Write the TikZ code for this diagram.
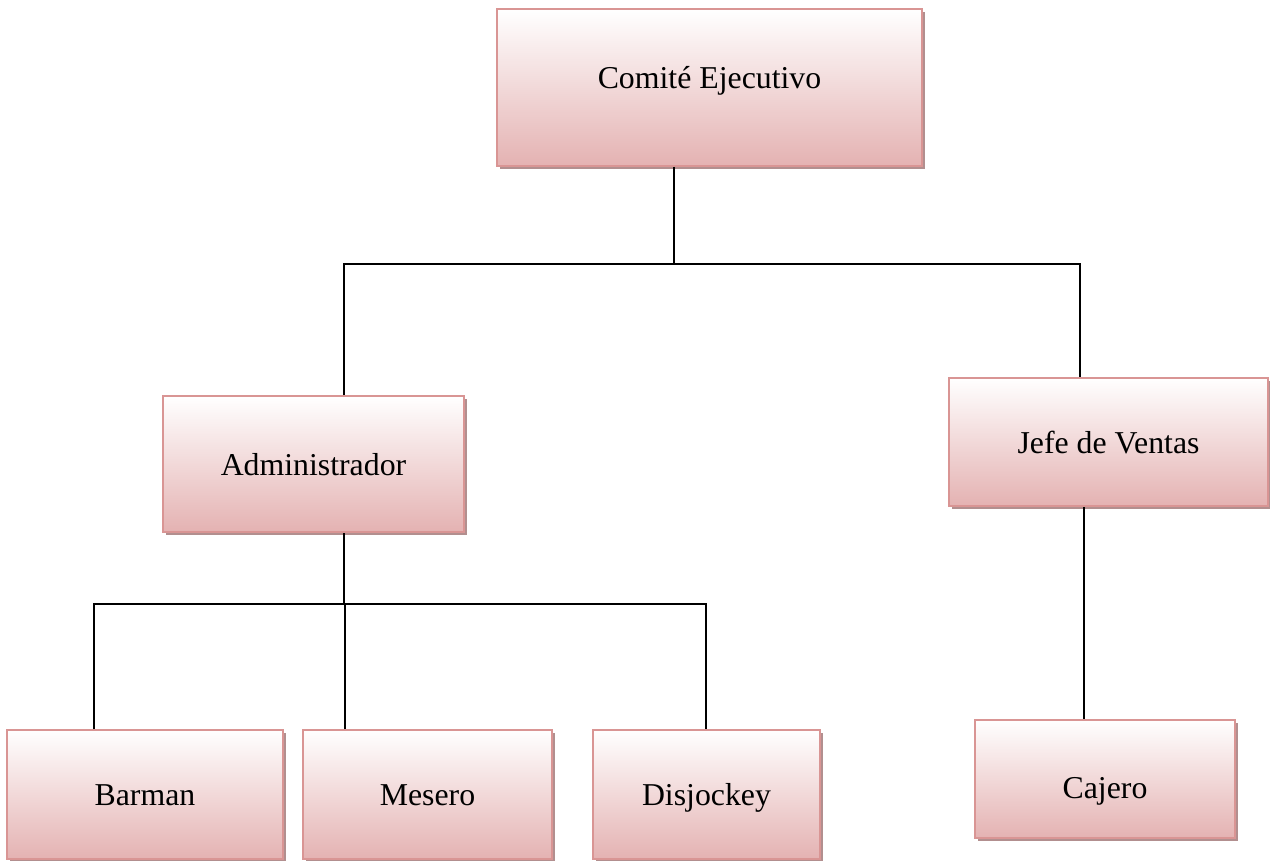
\documentclass[tikz,border=0pt]{standalone}
\usepackage{fontspec}
\setmainfont{Liberation Serif}
\usetikzlibrary{shadows}
\definecolor{boxline}{RGB}{217,149,148}
\definecolor{boxbottom}{RGB}{228,178,178}
\definecolor{boxshadow}{RGB}{178,143,143}
\tikzset{
  orgbox/.style={
    rectangle, draw=boxline, line width=2pt,
    top color=white, bottom color=boxbottom,
    drop shadow={shadow xshift=3pt, shadow yshift=-3pt, fill=boxshadow, opacity=1},
    inner sep=0pt, text height=22pt, text depth=0pt,
    font=\fontsize{31.8}{38}\selectfont, text=black},
  link/.style={draw=black, line width=1.6pt}
}
\begin{document}
\begin{tikzpicture}[x=1pt, y=-1pt]
  \useasboundingbox (0,0) rectangle (1270,861);

  % boxes
  \node[orgbox, minimum width=425pt, minimum height=157pt] (ce)  at (709.5,87.5) {\raisebox{10pt}{Comité Ejecutivo}};
  \node[orgbox, minimum width=301pt, minimum height=136pt] (adm) at (313.5,464)  {Administrador};
  \node[orgbox, minimum width=319pt, minimum height=128pt] (jv)  at (1108.5,442) {Jefe de Ventas};
  \node[orgbox, minimum width=276pt, minimum height=129pt] (bar) at (145,794.5)  {Barman};
  \node[orgbox, minimum width=249pt, minimum height=129pt] (mes) at (427.5,794.5) {Mesero};
  \node[orgbox, minimum width=227pt, minimum height=129pt] (dj)  at (706.5,794.5) {Disjockey};
  \node[orgbox, minimum width=260pt, minimum height=118pt] (caj) at (1105,779)   {\raisebox{-8pt}{Cajero}};

  % bus lines
  \coordinate (bus1) at (674,264);
  \coordinate (bus2) at (344,604);

  % connectors
  \draw[link] ([xshift=-35.5pt]ce.south) -- (bus1);
  \draw[link] ([xshift=30.5pt]adm.north) |- (bus1) -| ([xshift=-28.5pt]jv.north);
  \draw[link] ([xshift=30.5pt]adm.south) -- (bus2);
  \draw[link] ([xshift=-51pt]bar.north) |- (bus2) -| ([xshift=-0.5pt]dj.north);
  \draw[link] ([xshift=-82.5pt]mes.north) -- ([xshift=-82.5pt]mes.north |- bus2);
  \draw[link] ([xshift=-24.5pt]jv.south) -- ([xshift=-21pt]caj.north);
\end{tikzpicture}
\end{document}
